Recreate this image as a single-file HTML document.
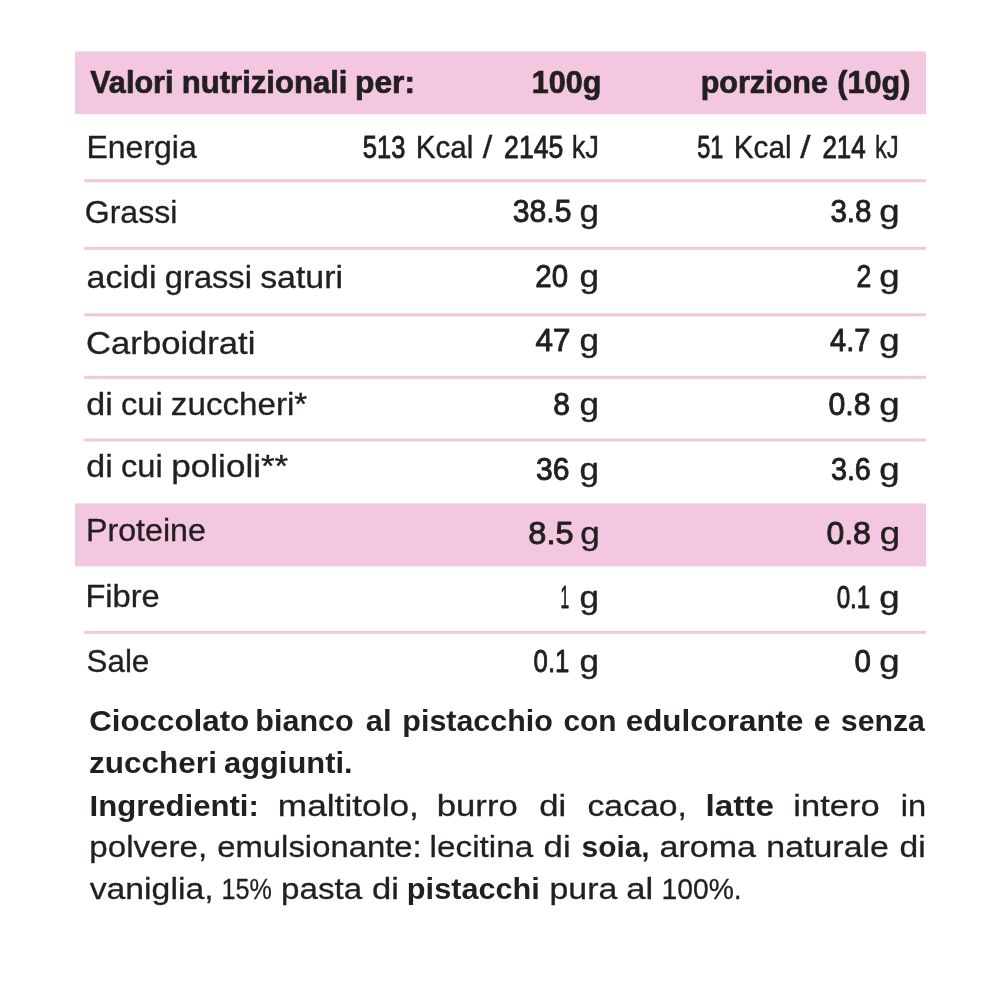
<!DOCTYPE html>
<html lang="it"><head><meta charset="utf-8"><title>Valori nutrizionali</title>
<style>
html,body{margin:0;padding:0;background:#fff;}
body{width:1000px;height:1000px;overflow:hidden;}
svg{display:block;will-change:transform;}
text{font-family:"Liberation Sans",sans-serif;fill:#231f20;stroke:#231f20;stroke-linejoin:round;}
.h{font-size:30.5px;font-weight:700;stroke-width:0.7px;}
.l{font-size:30.5px;font-weight:400;stroke-width:0.32px;}
.v{font-size:30.5px;font-weight:400;stroke-width:0.9px;}
.u{font-size:30.5px;font-weight:400;stroke-width:0.4px;}
.r{font-size:30px;font-weight:400;stroke-width:0.3px;}
.b{font-size:30px;font-weight:700;stroke-width:0px;}
</style></head><body>
<svg width="1000" height="1000" viewBox="0 0 1000 1000">
<defs><filter id="ga" x="0" y="0" width="1000" height="1000" filterUnits="userSpaceOnUse" color-interpolation-filters="sRGB"><feOffset dx="0" dy="0"/></filter></defs>
<rect x="0" y="0" width="1000" height="1000" fill="#ffffff"/>
<rect x="75" y="51.5" width="851" height="62.7" fill="#f2c7df"/>
<rect x="75" y="503.4" width="851" height="63.0" fill="#f2c7df"/>
<rect x="84.3" y="179.20" width="841.7" height="3" fill="#f0c8da"/>
<rect x="84.3" y="246.90" width="841.7" height="3" fill="#f0c8da"/>
<rect x="84.3" y="313.30" width="841.7" height="3" fill="#f0c8da"/>
<rect x="84.3" y="375.80" width="841.7" height="3" fill="#f0c8da"/>
<rect x="84.3" y="438.50" width="841.7" height="3" fill="#f0c8da"/>
<rect x="84.3" y="630.90" width="841.7" height="3" fill="#f0c8da"/>
<g filter="url(#ga)">
<text class="h" x="90.15" y="93.40" textLength="83.38" lengthAdjust="spacingAndGlyphs">Valori</text>
<text class="h" x="181.81" y="93.40" textLength="165.64" lengthAdjust="spacingAndGlyphs">nutrizionali</text>
<text class="h" x="354.97" y="93.40" textLength="60.03" lengthAdjust="spacingAndGlyphs">per:</text>
<text class="h" x="531.85" y="93.40" textLength="69.43" lengthAdjust="spacingAndGlyphs">100g</text>
<text class="h" x="700.65" y="93.40" textLength="127.27" lengthAdjust="spacingAndGlyphs">porzione</text>
<text class="h" x="837.35" y="93.40" textLength="73.06" lengthAdjust="spacingAndGlyphs">(10g)</text>
<text class="l" x="86.46" y="158.20" textLength="110.34" lengthAdjust="spacingAndGlyphs">Energia</text>
<text class="l" x="84.81" y="222.80" textLength="92.49" lengthAdjust="spacingAndGlyphs">Grassi</text>
<text class="l" x="86.64" y="287.50" textLength="69.98" lengthAdjust="spacingAndGlyphs">acidi</text>
<text class="l" x="164.89" y="287.50" textLength="87.05" lengthAdjust="spacingAndGlyphs">grassi</text>
<text class="l" x="260.16" y="287.50" textLength="82.85" lengthAdjust="spacingAndGlyphs">saturi</text>
<text class="l" x="86.12" y="353.70" textLength="169.33" lengthAdjust="spacingAndGlyphs">Carboidrati</text>
<text class="l" x="86.34" y="415.30" textLength="26.48" lengthAdjust="spacingAndGlyphs">di</text>
<text class="l" x="120.99" y="415.30" textLength="41.75" lengthAdjust="spacingAndGlyphs">cui</text>
<text class="l" x="170.87" y="415.30" textLength="136.43" lengthAdjust="spacingAndGlyphs">zuccheri*</text>
<text class="l" x="86.34" y="477.00" textLength="26.48" lengthAdjust="spacingAndGlyphs">di</text>
<text class="l" x="120.99" y="477.00" textLength="41.75" lengthAdjust="spacingAndGlyphs">cui</text>
<text class="l" x="171.31" y="477.00" textLength="116.98" lengthAdjust="spacingAndGlyphs">polioli**</text>
<text class="l" x="86.05" y="541.40" textLength="119.80" lengthAdjust="spacingAndGlyphs">Proteine</text>
<text class="l" x="85.42" y="606.70" textLength="74.35" lengthAdjust="spacingAndGlyphs">Fibre</text>
<text class="l" x="86.53" y="672.00" textLength="62.80" lengthAdjust="spacingAndGlyphs">Sale</text>
<text class="v" x="362.87" y="158.00" textLength="42.49" lengthAdjust="spacingAndGlyphs">513</text>
<text class="u" x="415.76" y="158.00" textLength="57.51" lengthAdjust="spacingAndGlyphs">Kcal</text>
<text class="u" x="482.70" y="158.00" textLength="9.51" lengthAdjust="spacingAndGlyphs">/</text>
<text class="v" x="504.08" y="158.00" textLength="59.32" lengthAdjust="spacingAndGlyphs">2145</text>
<text class="u" x="571.66" y="158.00" textLength="27.36" lengthAdjust="spacingAndGlyphs">kJ</text>
<text class="v" x="697.18" y="158.00" textLength="26.11" lengthAdjust="spacingAndGlyphs">51</text>
<text class="u" x="733.75" y="158.00" textLength="57.78" lengthAdjust="spacingAndGlyphs">Kcal</text>
<text class="u" x="800.20" y="158.00" textLength="10.22" lengthAdjust="spacingAndGlyphs">/</text>
<text class="v" x="822.40" y="158.00" textLength="43.37" lengthAdjust="spacingAndGlyphs">214</text>
<text class="u" x="874.88" y="158.00" textLength="23.88" lengthAdjust="spacingAndGlyphs">kJ</text>
<text class="v" x="512.86" y="222.30" textLength="58.64" lengthAdjust="spacingAndGlyphs">38.5</text>
<text class="u" x="579.55" y="222.30" textLength="19.51" lengthAdjust="spacingAndGlyphs">g</text>
<text class="v" x="830.48" y="222.30" textLength="41.00" lengthAdjust="spacingAndGlyphs">3.8</text>
<text class="u" x="879.20" y="222.30" textLength="20.36" lengthAdjust="spacingAndGlyphs">g</text>
<text class="v" x="535.28" y="286.60" textLength="32.80" lengthAdjust="spacingAndGlyphs">20</text>
<text class="u" x="579.55" y="286.60" textLength="19.51" lengthAdjust="spacingAndGlyphs">g</text>
<text class="v" x="856.58" y="286.60" textLength="14.81" lengthAdjust="spacingAndGlyphs">2</text>
<text class="u" x="879.20" y="286.60" textLength="20.36" lengthAdjust="spacingAndGlyphs">g</text>
<text class="v" x="535.55" y="350.90" textLength="34.99" lengthAdjust="spacingAndGlyphs">47</text>
<text class="u" x="579.55" y="350.90" textLength="19.51" lengthAdjust="spacingAndGlyphs">g</text>
<text class="v" x="830.05" y="350.90" textLength="40.42" lengthAdjust="spacingAndGlyphs">4.7</text>
<text class="u" x="879.20" y="350.90" textLength="20.36" lengthAdjust="spacingAndGlyphs">g</text>
<text class="v" x="553.17" y="415.20" textLength="16.62" lengthAdjust="spacingAndGlyphs">8</text>
<text class="u" x="579.55" y="415.20" textLength="19.51" lengthAdjust="spacingAndGlyphs">g</text>
<text class="v" x="828.46" y="415.20" textLength="42.05" lengthAdjust="spacingAndGlyphs">0.8</text>
<text class="u" x="879.20" y="415.20" textLength="20.36" lengthAdjust="spacingAndGlyphs">g</text>
<text class="v" x="535.96" y="479.50" textLength="33.43" lengthAdjust="spacingAndGlyphs">36</text>
<text class="u" x="579.55" y="479.50" textLength="19.51" lengthAdjust="spacingAndGlyphs">g</text>
<text class="v" x="830.91" y="479.50" textLength="39.95" lengthAdjust="spacingAndGlyphs">3.6</text>
<text class="u" x="879.20" y="479.50" textLength="20.36" lengthAdjust="spacingAndGlyphs">g</text>
<text class="v" x="528.38" y="543.80" textLength="45.19" lengthAdjust="spacingAndGlyphs">8.5</text>
<text class="u" x="580.15" y="543.80" textLength="19.51" lengthAdjust="spacingAndGlyphs">g</text>
<text class="v" x="826.40" y="543.80" textLength="44.56" lengthAdjust="spacingAndGlyphs">0.8</text>
<text class="u" x="879.80" y="543.80" textLength="20.36" lengthAdjust="spacingAndGlyphs">g</text>
<text class="v" x="560.44" y="608.10" textLength="8.60" lengthAdjust="spacingAndGlyphs">1</text>
<text class="u" x="579.55" y="608.10" textLength="19.51" lengthAdjust="spacingAndGlyphs">g</text>
<text class="v" x="836.66" y="608.10" textLength="33.66" lengthAdjust="spacingAndGlyphs">0.1</text>
<text class="u" x="879.20" y="608.10" textLength="20.36" lengthAdjust="spacingAndGlyphs">g</text>
<text class="v" x="533.61" y="672.40" textLength="35.76" lengthAdjust="spacingAndGlyphs">0.1</text>
<text class="u" x="579.55" y="672.40" textLength="19.51" lengthAdjust="spacingAndGlyphs">g</text>
<text class="v" x="854.48" y="672.40" textLength="16.40" lengthAdjust="spacingAndGlyphs">0</text>
<text class="u" x="879.20" y="672.40" textLength="20.36" lengthAdjust="spacingAndGlyphs">g</text>
<text class="b" x="89.16" y="731.30" textLength="160.08" lengthAdjust="spacingAndGlyphs">Cioccolato</text>
<text class="b" x="255.38" y="731.30" textLength="98.25" lengthAdjust="spacingAndGlyphs">bianco</text>
<text class="b" x="365.80" y="731.30" textLength="25.78" lengthAdjust="spacingAndGlyphs">al</text>
<text class="b" x="402.39" y="731.30" textLength="150.34" lengthAdjust="spacingAndGlyphs">pistacchio</text>
<text class="b" x="563.51" y="731.30" textLength="53.01" lengthAdjust="spacingAndGlyphs">con</text>
<text class="b" x="625.75" y="731.30" textLength="177.76" lengthAdjust="spacingAndGlyphs">edulcorante</text>
<text class="b" x="813.80" y="731.30" textLength="16.68" lengthAdjust="spacingAndGlyphs">e</text>
<text class="b" x="840.79" y="731.30" textLength="84.19" lengthAdjust="spacingAndGlyphs">senza</text>
<text class="b" x="89.05" y="773.00" textLength="127.85" lengthAdjust="spacingAndGlyphs">zuccheri</text>
<text class="b" x="224.00" y="773.00" textLength="128.57" lengthAdjust="spacingAndGlyphs">aggiunti.</text>
<text class="b" x="89.53" y="815.60" textLength="169.34" lengthAdjust="spacingAndGlyphs">Ingredienti:</text>
<text class="r" x="277.80" y="815.60" textLength="141.10" lengthAdjust="spacingAndGlyphs">maltitolo,</text>
<text class="r" x="436.79" y="815.60" textLength="80.95" lengthAdjust="spacingAndGlyphs">burro</text>
<text class="r" x="539.29" y="815.60" textLength="26.98" lengthAdjust="spacingAndGlyphs">di</text>
<text class="r" x="587.53" y="815.60" textLength="99.35" lengthAdjust="spacingAndGlyphs">cacao,</text>
<text class="b" x="705.48" y="815.60" textLength="68.48" lengthAdjust="spacingAndGlyphs">latte</text>
<text class="r" x="793.35" y="815.60" textLength="86.29" lengthAdjust="spacingAndGlyphs">intero</text>
<text class="r" x="900.87" y="815.60" textLength="25.41" lengthAdjust="spacingAndGlyphs">in</text>
<text class="r" x="89.35" y="857.00" textLength="117.78" lengthAdjust="spacingAndGlyphs">polvere,</text>
<text class="r" x="217.26" y="857.00" textLength="204.45" lengthAdjust="spacingAndGlyphs">emulsionante:</text>
<text class="r" x="429.63" y="857.00" textLength="103.57" lengthAdjust="spacingAndGlyphs">lecitina</text>
<text class="r" x="543.59" y="857.00" textLength="27.09" lengthAdjust="spacingAndGlyphs">di</text>
<text class="b" x="581.60" y="857.00" textLength="68.02" lengthAdjust="spacingAndGlyphs">soia,</text>
<text class="r" x="659.52" y="857.00" textLength="96.48" lengthAdjust="spacingAndGlyphs">aroma</text>
<text class="r" x="766.39" y="857.00" textLength="122.53" lengthAdjust="spacingAndGlyphs">naturale</text>
<text class="r" x="899.53" y="857.00" textLength="26.19" lengthAdjust="spacingAndGlyphs">di</text>
<text class="r" x="89.65" y="899.40" textLength="123.93" lengthAdjust="spacingAndGlyphs">vaniglia,</text>
<text class="r" x="221.48" y="899.40" textLength="50.24" lengthAdjust="spacingAndGlyphs">15%</text>
<text class="r" x="281.05" y="899.40" textLength="81.06" lengthAdjust="spacingAndGlyphs">pasta</text>
<text class="r" x="372.09" y="899.40" textLength="26.98" lengthAdjust="spacingAndGlyphs">di</text>
<text class="b" x="406.88" y="899.40" textLength="132.99" lengthAdjust="spacingAndGlyphs">pistacchi</text>
<text class="r" x="549.52" y="899.40" textLength="67.77" lengthAdjust="spacingAndGlyphs">pura</text>
<text class="r" x="626.19" y="899.40" textLength="26.98" lengthAdjust="spacingAndGlyphs">al</text>
<text class="r" x="661.46" y="899.40" textLength="80.29" lengthAdjust="spacingAndGlyphs">100%.</text>
</g>
</svg>
</body></html>
